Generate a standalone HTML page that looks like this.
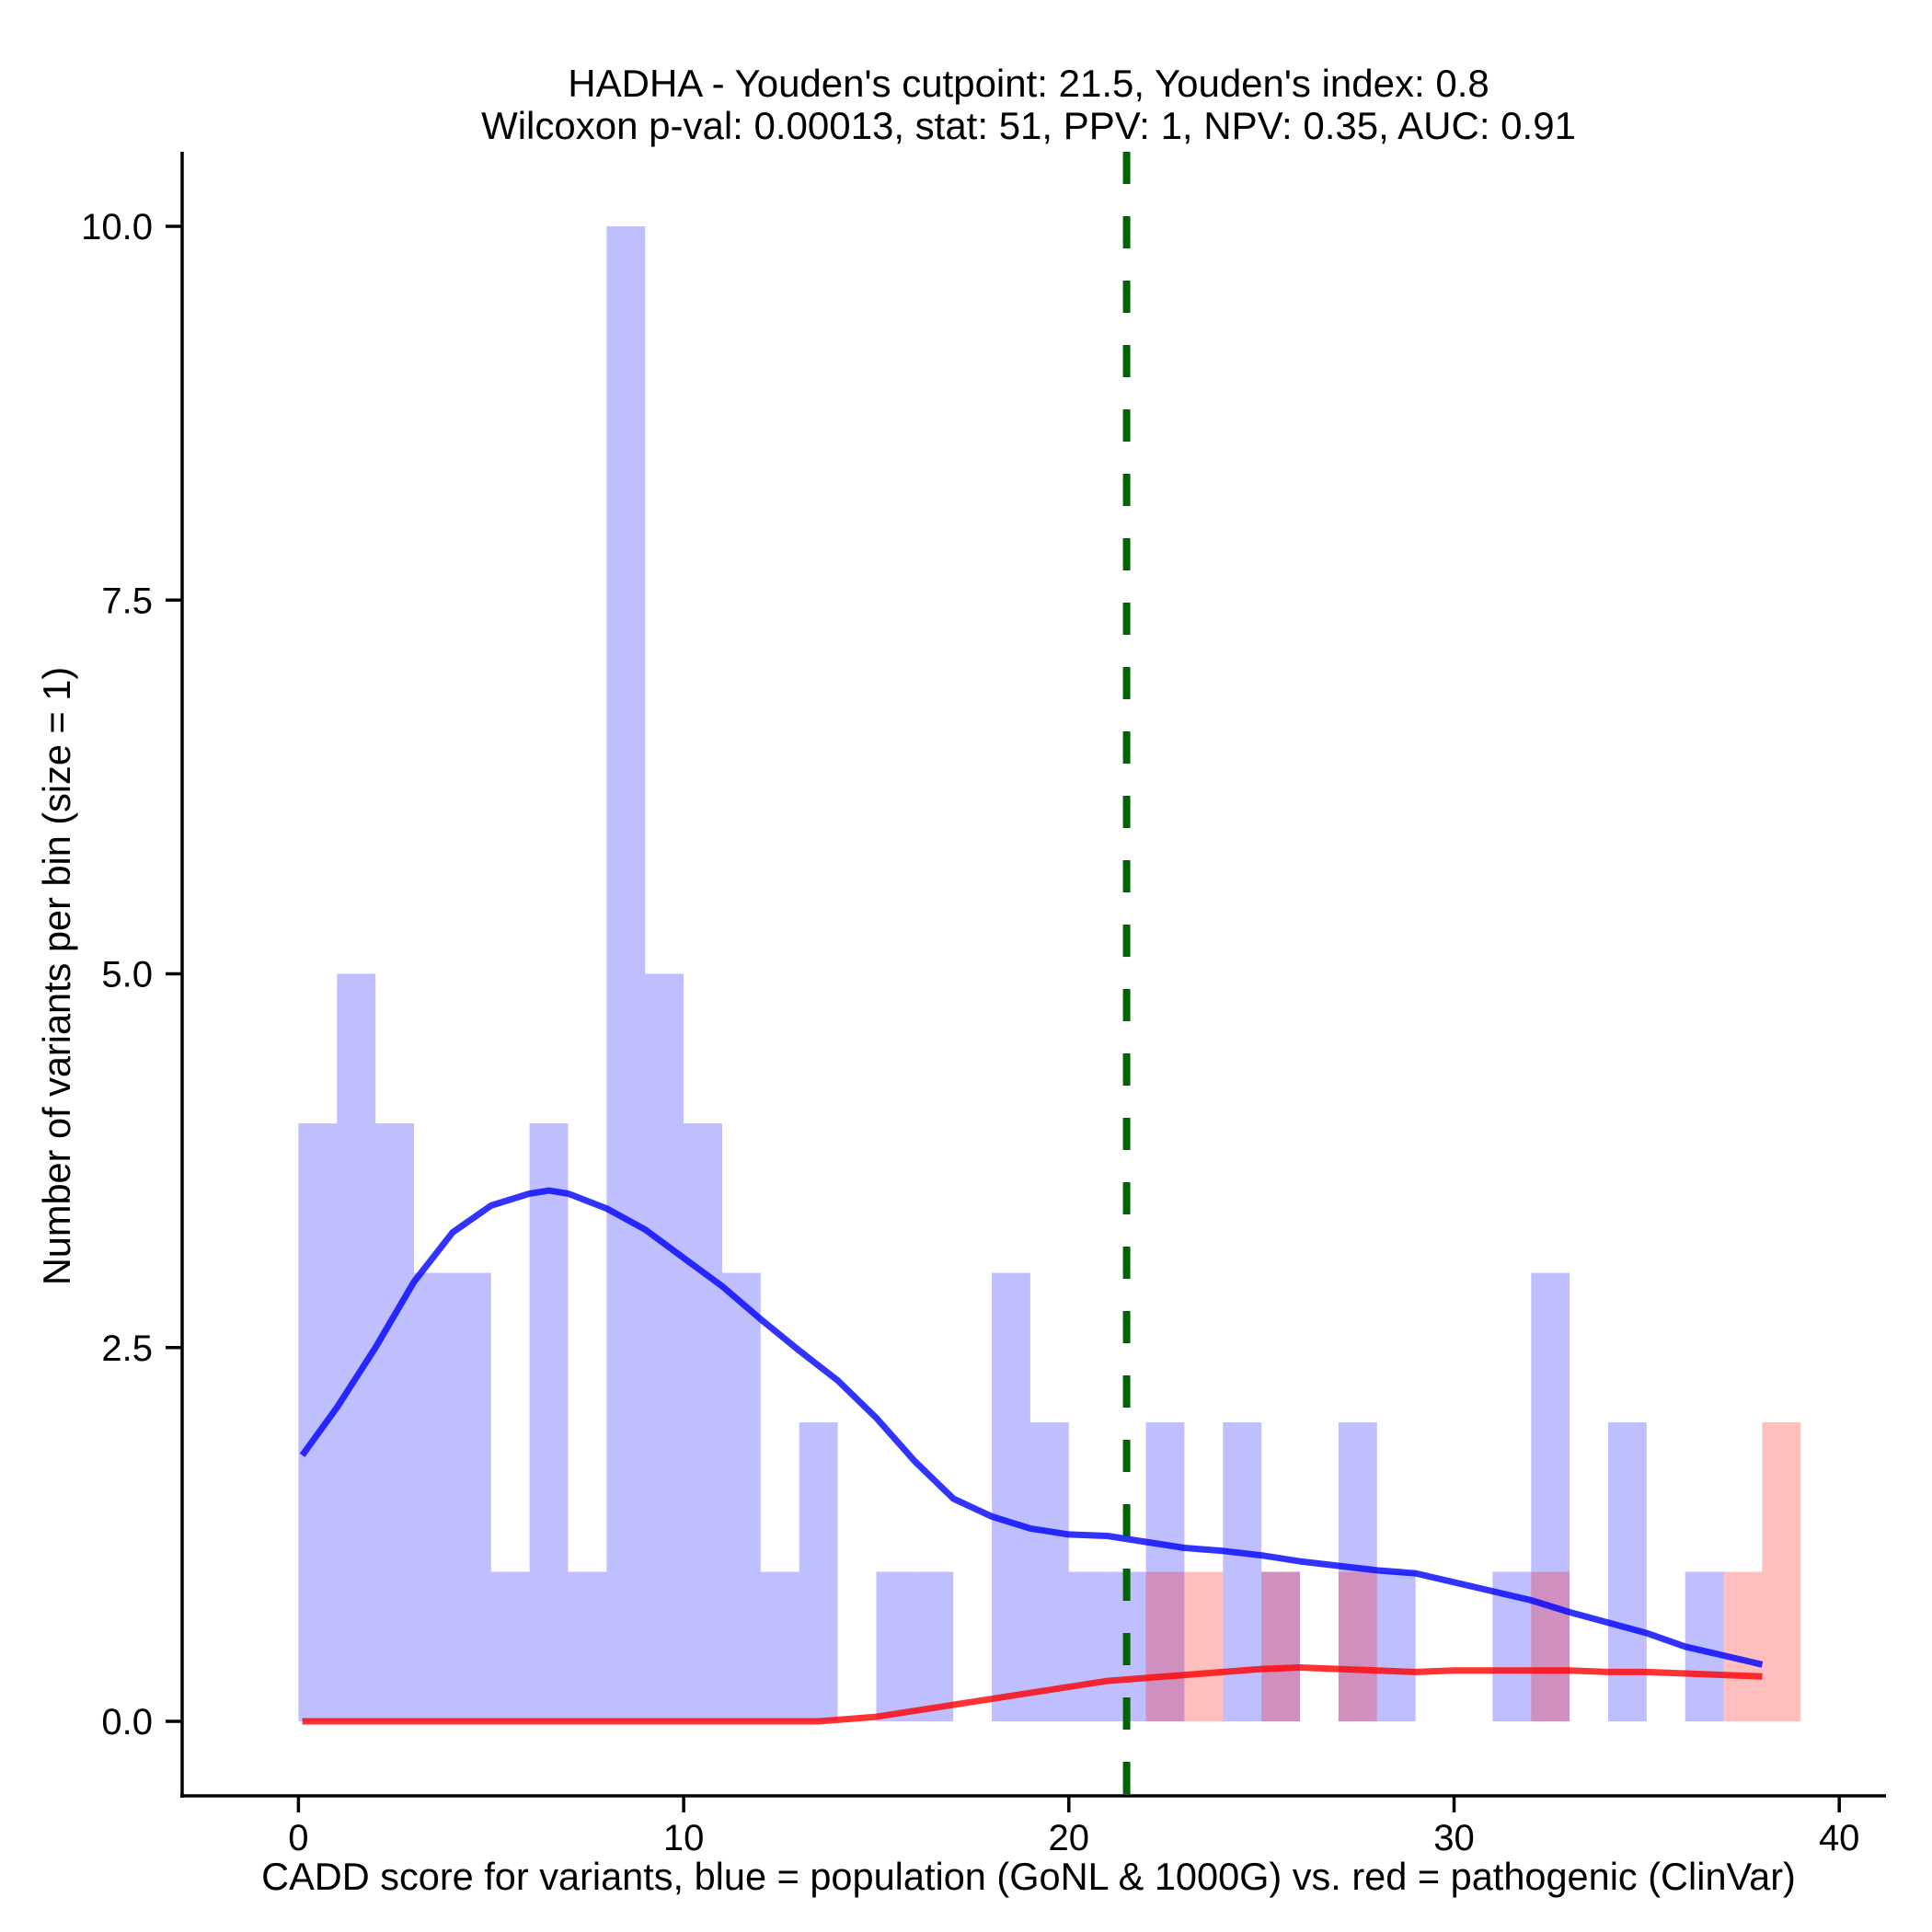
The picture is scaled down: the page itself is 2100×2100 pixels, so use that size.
<!DOCTYPE html>
<html><head><meta charset="utf-8"><style>
html,body{margin:0;padding:0;background:#fff;}
svg{display:block;font-family:"Liberation Sans",Arial,sans-serif;}
</style></head><body>
<svg id="chart" width="2100" height="2100" viewBox="0 0 2100 2100" xmlns="http://www.w3.org/2000/svg">
<g id="bars"></g>
<g id="lines"></g>
<g id="axes"></g>
<text x="1118" y="105" font-size="42" text-anchor="middle">HADHA - Youden's cutpoint: 21.5, Youden's index: 0.8</text>
<text x="1118" y="151" font-size="42" text-anchor="middle">Wilcoxon p-val: 0.00013, stat: 51, PPV: 1, NPV: 0.35, AUC: 0.91</text>
<text x="1118" y="2054" font-size="41.5" text-anchor="middle">CADD score for variants, blue = population (GoNL &amp; 1000G) vs. red = pathogenic (ClinVar)</text>
<text x="0" y="0" font-size="41.5" text-anchor="middle" transform="translate(76,1061) rotate(-90)">Number of variants per bin (size = 1)</text>
</svg>
<script>
const binStarts = [0,1,2,3,4,5,6,7,8,9,10,11,12,13,14,15,16,17,18,19,20,21,22,23,24,25,26,27,28,29,30,31,32,33,34,35,36,37,38];
const blueCounts = [4,5,4,3,3,1,4,1,10,5,4,3,1,2,0,1,1,0,3,2,1,1,2,0,2,1,0,2,1,0,0,1,3,0,2,0,1,0,0];
const redCounts  = [0,0,0,0,0,0,0,0,0,0,0,0,0,0,0,0,0,0,0,0,0,0,1,1,0,1,0,1,0,0,0,0,1,0,0,0,0,1,2];
const densX = [0.1,1,2,3,4,5,6,6.5,7,8,9,10,11,12,13,13.5,14,15,16,17,18,19,20,21,22,23,24,25,26,27,28,29,30,31,32,33,34,35,36,37,38];
const blueDens = [1.78,2.1,2.5,2.94,3.27,3.45,3.53,3.55,3.53,3.43,3.29,3.10,2.91,2.69,2.48,2.38,2.28,2.03,1.74,1.49,1.37,1.29,1.25,1.24,1.20,1.16,1.14,1.11,1.07,1.04,1.01,0.99,0.93,0.87,0.81,0.73,0.66,0.59,0.5,0.44,0.38];
const redDens = [0,0,0,0,0,0,0,0,0,0,0,0,0,0,0,0,0.01,0.03,0.07,0.11,0.15,0.19,0.23,0.27,0.29,0.31,0.33,0.35,0.36,0.35,0.34,0.33,0.34,0.34,0.34,0.34,0.33,0.33,0.32,0.31,0.30];
const xTicks = [0,10,20,30,40];
const yTicks = [0,2.5,5,7.5,10];
const yTickLabels = ["0.0","2.5","5.0","7.5","10.0"];
const cutpoint = [21.5];

const NS="http://www.w3.org/2000/svg";
const X = v => 324.4 + v*41.87;
const Y = v => 1871 - v*162.5;
function mk(tag, attrs, parent){const e=document.createElementNS(NS,tag);for(const k in attrs)e.setAttribute(k,attrs[k]);parent.appendChild(e);return e;}
const bars=document.getElementById('bars'), lines=document.getElementById('lines'), axes=document.getElementById('axes');

binStarts.forEach((b,i)=>{
  if(blueCounts[i]>0){
    const r=mk('rect',{x:X(b),y:Y(blueCounts[i]),width:X(b+1)-X(b),height:Y(0)-Y(blueCounts[i]),fill:'rgb(0,0,255)','fill-opacity':0.25},bars);
    
    
  }
});
binStarts.forEach((b,i)=>{
  if(redCounts[i]>0){
    const r=mk('rect',{x:X(b),y:Y(redCounts[i]),width:X(b+1)-X(b),height:Y(0)-Y(redCounts[i]),fill:'rgb(255,0,0)','fill-opacity':0.25},bars);
    
    
  }
});
function path(arr){return densX.map((x,i)=>(i?'L':'M')+X(x).toFixed(1)+' '+Y(arr[i]).toFixed(1)).join(' ');}
const bl=mk('path',{d:path(blueDens),fill:'none',stroke:'rgb(0,0,255)','stroke-opacity':0.8,'stroke-width':7,'stroke-linejoin':'round'},lines);


const rl=mk('path',{d:path(redDens),fill:'none',stroke:'rgb(255,0,0)','stroke-opacity':0.8,'stroke-width':7,'stroke-linejoin':'round'},lines);


cutpoint.forEach(c=>{
  const l=mk('line',{x1:X(c),x2:X(c),y1:165,y2:1952,stroke:'#006400','stroke-width':8,'stroke-dasharray':'35 35'},lines);
  
  
});
const ya=mk('line',{x1:198,x2:198,y1:165,y2:1954,stroke:'#000','stroke-width':3.5},axes);


const xa=mk('line',{x1:196,x2:2050,y1:1952,y2:1952,stroke:'#000','stroke-width':3.5},axes);


yTicks.forEach((t,i)=>{
  const tk=mk('line',{x1:180,x2:198,y1:Y(t),y2:Y(t),stroke:'#000','stroke-width':3.5},axes);
  
  
  const tx=mk('text',{x:166,y:Y(t)+14,'font-size':40,'text-anchor':'end'},axes);
  tx.textContent=yTickLabels[i];
  
  
});
xTicks.forEach(t=>{
  const tk=mk('line',{x1:X(t),x2:X(t),y1:1952,y2:1970,stroke:'#000','stroke-width':3.5},axes);
  
  
  const tx=mk('text',{x:X(t),y:2011,'font-size':40,'text-anchor':'middle'},axes);
  tx.textContent=String(t);
  
  
});
</script>
</body></html>
